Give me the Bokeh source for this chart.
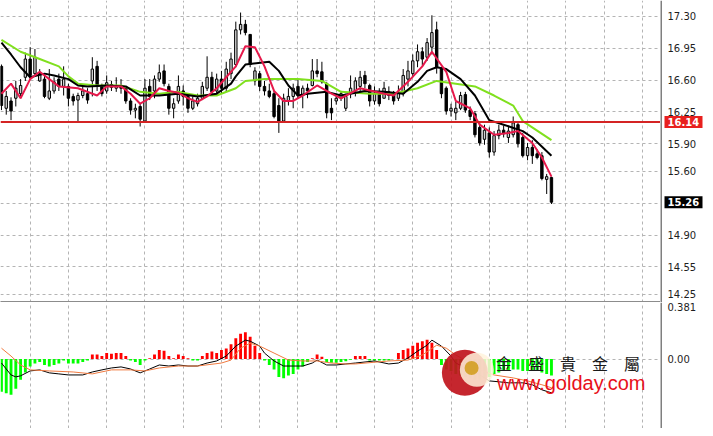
import numpy as np
from bokeh.plotting import figure
from bokeh.layouts import column, row
from bokeh.models import Range1d, FixedTicker, Span
from bokeh.core.properties import value
from bokeh.embed import file_html
from bokeh.resources import INLINE

# ---------------- data ----------------
opens = [16.75,16.29,16.37,16.40,16.45,16.63,16.83,16.67,16.59,16.61,
         16.40,16.48,16.61,16.53,16.53,16.42,16.38,16.43,16.45,16.59,
         16.75,16.53,16.48,16.55,16.51,16.54,16.51,16.37,16.27,16.31,
         16.15,16.53,16.48,16.61,16.70,16.53,16.29,16.37,16.48,16.42,
         16.29,16.34,16.40,16.51,16.63,16.48,16.61,16.51,16.67,16.77,
         17.15,17.21,17.10,16.59,16.67,16.53,16.48,16.45,16.32,16.15,
         16.37,16.42,16.53,16.43,16.51,16.54,16.70,16.69,16.56,16.29,
         16.37,16.40,16.29,16.45,16.48,16.53,16.65,16.54,16.37,16.45,
         16.40,16.47,16.44,16.40,16.45,16.61,16.67,16.81,16.91,16.85,
         16.96,17.15,16.72,16.51,16.26,16.24,16.29,16.44,16.27,16.23,
         16.08,15.95,16.02,15.81,15.99,16.05,15.97,16.00,16.11,15.97,
         15.77,15.86,15.79,15.77,15.51,15.53]
highs = [16.77,16.48,16.41,16.59,16.61,16.90,16.96,16.94,16.72,16.67,
         16.72,16.63,16.67,16.75,16.56,16.45,16.46,16.53,16.51,16.85,
         16.81,16.56,16.65,16.59,16.63,16.61,16.53,16.40,16.34,16.34,
         16.61,16.61,16.65,16.77,16.77,16.56,16.40,16.65,16.54,16.45,
         16.42,16.45,16.58,16.86,16.69,16.67,16.70,16.80,16.90,17.24,
         17.34,17.26,17.10,16.74,16.70,16.59,16.56,16.48,16.40,16.45,
         16.51,16.56,16.61,16.54,16.56,16.83,16.83,16.80,16.58,16.40,
         16.45,16.48,16.45,16.65,16.63,16.70,16.70,16.56,16.53,16.51,
         16.58,16.53,16.48,16.54,16.72,16.81,16.88,16.99,16.96,17.06,
         17.31,17.24,16.74,16.53,16.34,16.36,16.47,16.47,16.31,16.26,
         16.13,16.11,16.08,16.04,16.11,16.10,16.10,16.20,16.15,16.02,
         15.91,15.94,15.84,15.81,15.57,15.54]
lows = [16.27,16.22,16.16,16.31,16.40,16.59,16.61,16.65,16.58,16.40,
        16.38,16.45,16.48,16.43,16.31,16.32,16.15,16.40,16.34,16.42,
        16.48,16.42,16.45,16.48,16.47,16.45,16.34,16.22,16.18,16.09,
        16.13,16.38,16.40,16.58,16.53,16.22,16.18,16.34,16.32,16.24,
        16.27,16.31,16.38,16.48,16.43,16.45,16.45,16.47,16.61,16.74,
        17.10,17.09,16.74,16.54,16.48,16.43,16.40,16.18,16.02,16.13,
        16.32,16.29,16.40,16.29,16.40,16.53,16.63,16.56,16.18,16.16,
        16.33,16.37,16.26,16.40,16.42,16.48,16.51,16.31,16.33,16.31,
        16.40,16.38,16.33,16.37,16.42,16.53,16.63,16.74,16.76,16.81,
        16.88,16.67,16.40,16.22,16.20,16.16,16.27,16.24,16.16,15.97,
        15.88,15.89,15.75,15.77,15.95,15.97,15.91,15.97,15.86,15.75,
        15.72,15.68,15.73,15.50,15.35,15.24]
closes = [16.32,16.42,16.26,16.51,16.54,16.83,16.65,16.85,16.67,16.42,
          16.48,16.58,16.53,16.61,16.40,16.37,16.43,16.48,16.38,16.72,
          16.53,16.45,16.57,16.52,16.54,16.51,16.37,16.27,16.29,16.17,
          16.51,16.42,16.61,16.68,16.56,16.29,16.34,16.53,16.42,16.29,
          16.37,16.40,16.53,16.63,16.47,16.61,16.51,16.72,16.83,17.15,
          17.21,17.12,16.77,16.70,16.53,16.48,16.42,16.20,16.15,16.40,
          16.42,16.51,16.43,16.51,16.48,16.70,16.67,16.58,16.24,16.24,
          16.40,16.45,16.42,16.51,16.59,16.63,16.56,16.37,16.45,16.34,
          16.51,16.43,16.37,16.46,16.65,16.70,16.81,16.91,16.83,17.01,
          17.12,16.74,16.45,16.26,16.29,16.29,16.43,16.27,16.20,16.00,
          15.91,16.05,15.81,15.99,16.05,16.01,16.04,16.13,15.90,15.77,
          15.86,15.77,15.75,15.52,15.54,15.26]

# moving averages, read at selected bars
ma_fast_bar = [0,2,4,6,8,10,12,16,20,22,25,27,29,31,33,35,37,39,41,43,45,47,49,51,53,55,57,59,61,63,
               66,69,71,75,80,82,85,88,90,93,95,98,100,103,106,108,111,113,115]
ma_fast = [16.45,16.56,16.40,16.61,16.69,16.61,16.53,16.51,16.43,16.53,16.53,16.45,16.34,16.40,16.51,
           16.48,16.46,16.40,16.36,16.42,16.51,16.63,16.75,16.97,16.96,16.75,16.48,16.37,16.37,16.43,
           16.54,16.45,16.40,16.51,16.45,16.43,16.58,16.75,16.91,16.69,16.37,16.29,16.11,16.00,16.02,
           16.04,15.91,15.75,15.54]
ma_mid_bar = [0,2,4,6,9,11,14,16,18,22,26,29,33,37,41,45,48,49,51,56,58,60,62,64,68,71,76,80,84,87,
              89,91,93,96,99,102,105,109,111,115]
ma_mid = [17.01,16.88,16.74,16.63,16.67,16.65,16.61,16.54,16.53,16.54,16.53,16.43,16.43,16.45,16.42,
          16.45,16.56,16.64,16.77,16.80,16.70,16.54,16.43,16.45,16.47,16.43,16.48,16.47,16.45,16.58,
          16.70,16.74,16.72,16.61,16.43,16.16,16.11,16.04,15.97,15.77]
ma_slow_bar = [0,4,8,12,14,16,20,25,29,33,37,41,45,49,51,55,62,67,71,77,82,87,91,95,99,103,107,109,115]
ma_slow = [17.04,16.91,16.83,16.75,16.64,16.56,16.54,16.54,16.47,16.45,16.47,16.43,16.43,16.51,16.59,
           16.61,16.61,16.59,16.47,16.45,16.45,16.51,16.59,16.56,16.53,16.43,16.32,16.15,15.94]

support_level = 16.14
last_price = 15.26
price_ticks = [17.30, 16.95, 16.60, 16.25, 15.90, 15.60, 15.25, 14.90, 14.55, 14.25]
price_labels = ["17.30", "16.95", "16.60", "16.25", "15.90", "15.60", "", "14.90", "14.55", "14.25"]

# MACD panel
macd_hist = [-0.22,-0.23,-0.24,-0.20,-0.14,-0.09,-0.05,-0.03,-0.02,-0.04,
             -0.05,-0.04,-0.03,-0.01,-0.03,-0.03,-0.03,-0.02,-0.01,0.03,
             0.03,0.02,0.04,0.035,0.04,0.04,0.02,-0.01,-0.02,-0.04,
             -0.01,0.005,0.03,0.06,0.055,0.02,0.005,0.03,0.02,0.005,
             -0.01,-0.01,0.02,0.04,0.05,0.04,0.06,0.07,0.10,0.14,
             0.17,0.18,0.15,0.09,0.04,-0.01,-0.04,-0.07,-0.12,-0.13,
             -0.11,-0.10,-0.07,-0.05,-0.02,0.005,0.03,0.015,-0.02,-0.025,
             -0.025,-0.02,-0.015,-0.005,0.02,0.02,0.02,-0.01,-0.01,-0.01,
             -0.01,-0.01,0.0,0.04,0.06,0.07,0.09,0.11,0.12,0.13,
             0.11,0.06,-0.04,-0.07,-0.08,-0.10,-0.11,-0.12,-0.13,-0.14,
             -0.14,-0.13,-0.12,-0.10,-0.09,-0.08,-0.08,-0.07,-0.07,-0.08,
             -0.08,-0.08,-0.08,-0.09,-0.10,-0.11]
macd_bar = [0,2,3,4,6,8,10,12,14,17,19,21,23,25,27,29,31,33,35,37,39,41,43,45,47,49,51,52,54,55,
            57,59,61,63,65,66,68,70,72,74,78,81,83,85,87,89,90,92,94,95,98,100,102,104,106,109,111,113,115]
macd_main = [-0.027,-0.107,-0.12,-0.113,-0.08,-0.073,-0.093,-0.10,-0.107,-0.107,-0.087,-0.073,-0.06,
             -0.053,-0.067,-0.093,-0.067,-0.04,-0.047,-0.04,-0.047,-0.047,-0.027,-0.013,0.02,0.087,
             0.127,0.12,0.087,0.04,-0.013,-0.047,-0.047,-0.047,-0.027,-0.007,-0.04,-0.04,-0.033,-0.027,
             -0.013,-0.033,-0.027,0.007,0.053,0.093,0.127,0.087,0.02,-0.027,-0.073,-0.107,-0.147,
             -0.153,-0.16,-0.16,-0.173,-0.207,-0.227]
signal_bar = [0,2,4,6,10,15,19,23,27,30,33,37,41,46,48,50,52,54,57,60,63,66,69,72,74,81,85,88,91,93,
              95,98,100,103,107,110,113,115]
macd_signal = [0.073,0.02,-0.04,-0.073,-0.08,-0.087,-0.10,-0.073,-0.073,-0.08,-0.06,-0.047,-0.047,
               -0.027,-0.007,0.073,0.107,0.087,0.04,-0.007,-0.013,-0.013,-0.027,-0.033,-0.033,-0.013,
               -0.007,0.027,0.093,0.073,0.027,-0.027,-0.073,-0.107,-0.127,-0.147,-0.173,-0.193]
macd_max = 0.381
macd_ticks = [0.0]
macd_labels = ["0.00"]

# ---------------- layout ----------------
W = 705
AXW = 45
PW = W - AXW
H_MAIN = 302
H_MACD = 126
n = len(closes)
bars = np.arange(n)
o = np.array(opens); c = np.array(closes); hi = np.array(highs); lo = np.array(lows)
up = c >= o
grid_bars = list(range(6, 138, 8))
x_range = Range1d(-0.2, 137.8)
GRID = "#b4b4b4"
AXFONT = value("DejaVu Sans")
price_range = Range1d(14.16, 17.472)
macd_range = Range1d(-0.467, 0.38)


def base_fig(width, height, xr, yr):
    f = figure(width=width, height=height, x_range=xr, y_range=yr,
               output_backend="svg", toolbar_location=None,
               min_border_left=0, min_border_right=0, min_border_top=0, min_border_bottom=0,
               background_fill_color="white", border_fill_color="white", outline_line_color=None)
    f.yaxis.visible = False
    return f


def separator_axis(f, color):
    ax = f.xaxis[0]
    ax.ticker = FixedTicker(ticks=[])
    ax.major_tick_in = 0
    ax.major_tick_out = 0
    ax.minor_tick_line_color = None
    ax.major_label_standoff = 0
    ax.axis_line_color = color
    ax.axis_line_width = 3


# main price panel
p = base_fig(PW, H_MAIN, x_range, price_range)
separator_axis(p, "#8c8c8c")
p.xgrid.ticker = FixedTicker(ticks=grid_bars)
p.ygrid.ticker = FixedTicker(ticks=price_ticks)
for g in (p.xgrid, p.ygrid):
    g.grid_line_color = GRID
    g.grid_line_dash = "3 3"
    g.grid_line_width = 1

p.add_layout(Span(location=support_level, dimension="width", line_color="#d42424", line_width=2))

p.segment(bars, hi, bars, lo, color="black", line_width=1)
p.vbar(bars[up], top=c[up], bottom=o[up], width=0.5, fill_color="#d2d2d2", line_color="black", line_width=1)
p.vbar(bars[~up], top=o[~up], bottom=c[~up], width=0.5, fill_color="black", line_color="black", line_width=1)

p.line(ma_slow_bar, ma_slow, color="#80e01e", line_width=2)
p.line(ma_mid_bar, ma_mid, color="black", line_width=2)
p.line(ma_fast_bar, ma_fast, color="#e6194b", line_width=2)

# price scale (right gutter)
pa = base_fig(AXW, H_MAIN, Range1d(0, AXW), price_range)
separator_axis(pa, "white")
pa.xgrid.visible = False
pa.ygrid.visible = False
pa.add_layout(Span(location=0.5, dimension="height", line_color="black", line_width=1))
pa.text(x=[7] * len(price_ticks), y=price_ticks, text=price_labels, text_font=AXFONT,
        text_font_size="10px", text_color="#1e1e1e", text_baseline="middle", text_align="left")
pa.rect(x=[23, 23], y=[support_level, last_price], width=38, height=12, height_units="screen",
        fill_color=["#e8201e", "black"], line_color=None)
pa.text(x=[7, 7], y=[support_level, last_price], text=[f"{support_level:.2f}", f"{last_price:.2f}"],
        text_font=AXFONT, text_font_size="10px", text_color="white", text_font_style="bold",
        text_baseline="middle", text_align="left")

# MACD panel
m = base_fig(PW, H_MACD, x_range, macd_range)
m.xaxis.visible = False
m.xgrid.ticker = FixedTicker(ticks=grid_bars)
m.ygrid.ticker = FixedTicker(ticks=macd_ticks)
for g in (m.xgrid, m.ygrid):
    g.grid_line_color = GRID
    g.grid_line_dash = "3 3"

hist = np.array(macd_hist)
hcol = ["#ff0000" if v > 0 else "#00ff00" for v in hist]
m.vbar(x=bars, top=hist, bottom=0, width=0.6, fill_color=hcol, line_color=None)
m.line(macd_bar, macd_main, color="black", line_width=1)
m.line(signal_bar, macd_signal, color="#f07a40", line_width=1)

# watermark (logo + text)
m.circle(x=[96.9], y=[-0.093], radius=23, radius_units="screen", fill_color="#c0141c", line_color=None, fill_alpha=0.92)
m.circle(x=[99.4], y=[-0.072], radius=17, radius_units="screen", fill_color="#fff3dc", line_color=None, fill_alpha=0.85)
m.circle(x=[98.3], y=[-0.06], radius=7, radius_units="screen", fill_color="#d6a431", line_color=None)
m.text(x=[103.4], y=[-0.027], text=["金　盛　貴　金　屬"], text_font=value("Noto Sans CJK TC"),
       text_font_size="16px", text_color="#1a1a1a", text_baseline="middle", text_align="left")
m.text(x=[103.6], y=[-0.16], text=["www.golday.com"], text_font=value("Liberation Sans"),
       text_font_size="20px", text_color="#e8101a", text_baseline="middle", text_align="left")

# MACD scale (right gutter)
ma = base_fig(AXW, H_MACD, Range1d(0, AXW), macd_range)
ma.xaxis.visible = False
ma.xgrid.visible = False
ma.ygrid.visible = False
ma.add_layout(Span(location=0.5, dimension="height", line_color="black", line_width=1))
ma.text(x=[7] * len(macd_ticks), y=macd_ticks, text=macd_labels, text_font=AXFONT,
        text_font_size="10px", text_color="#1e1e1e", text_baseline="middle", text_align="left")
ma.text(x=[7], y=[macd_range.end], text=[f"{macd_max:.3f}"], text_font=AXFONT,
        text_font_size="10px", text_color="#1e1e1e", text_baseline="top", text_align="left")

layout = column(row(p, pa, spacing=0), row(m, ma, spacing=0), spacing=0)
open("out.html", "w").write(file_html(layout, INLINE))
